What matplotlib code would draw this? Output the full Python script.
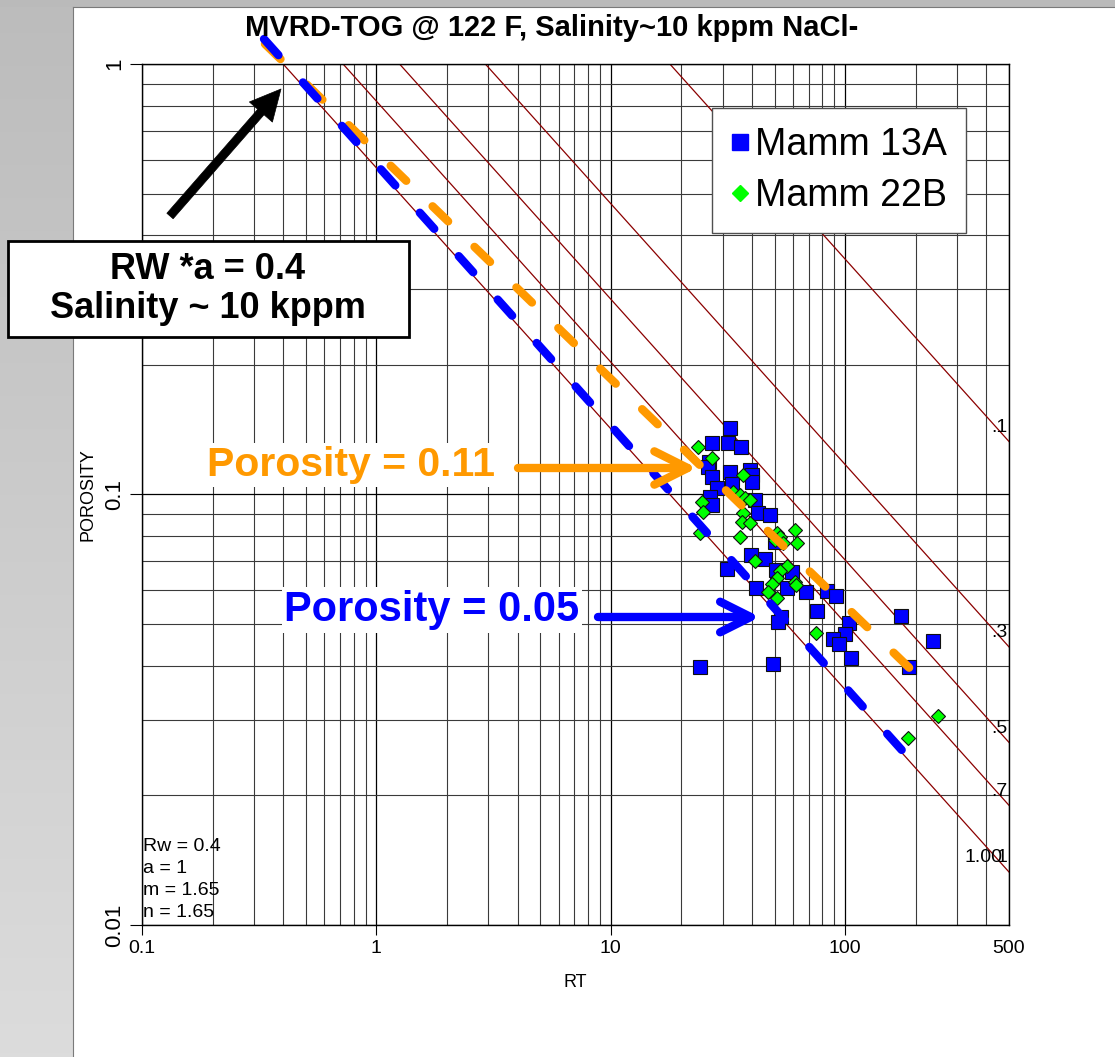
import numpy as np
import matplotlib
matplotlib.use("Agg")
import matplotlib.pyplot as plt
from matplotlib.patches import Rectangle
from matplotlib.lines import Line2D
from matplotlib.colors import LinearSegmentedColormap
from matplotlib.ticker import FixedLocator, LogLocator, NullFormatter
from matplotlib.transforms import blended_transform_factory
from matplotlib import font_manager

# ---------------- data ----------------
mamm13a_rt = [32.3, 27.0, 31.6, 35.9, 26.2, 26.0, 32.3, 27.0, 39.3, 40.0,
              40.0, 32.9, 28.4, 26.5, 27.0, 41.2, 42.5, 47.8, 50.2, 39.6,
              45.5, 31.3, 50.7, 59.3, 41.6, 56.5, 68.0, 83.6, 91.4, 75.8,
              173, 53.2, 51.7, 104, 99.8, 88.7, 94.1, 237, 106, 24.0,
              49.2, 187]
mamm13a_phi = [0.143, 0.132, 0.132, 0.129, 0.119, 0.116, 0.113, 0.110, 0.114, 0.111,
               0.107, 0.106, 0.1035, 0.0987, 0.0946, 0.0971, 0.0906, 0.0896, 0.0775, 0.0724,
               0.0708, 0.0671, 0.0668, 0.0661, 0.0606, 0.0606, 0.0594, 0.0597, 0.0581, 0.0536,
               0.0522, 0.0519, 0.0505, 0.0503, 0.0474, 0.0462, 0.0449, 0.0457, 0.0417, 0.0398,
               0.0404, 0.0398]

mamm22b_rt = [23.6, 27.0, 36.6, 33.2, 35.6, 37.4, 39.3, 24.5, 24.7, 36.6,
              36.3, 39.3, 24.0, 35.6, 51.2, 52.7, 61.1, 50.2, 54.3, 62.3,
              41.2, 56.5, 52.7, 51.2, 48.7, 61.1, 61.7, 46.8, 51.2, 75.1,
              249, 185]
mamm22b_phi = [0.129, 0.1216, 0.111, 0.1013, 0.0997, 0.0982, 0.0971, 0.0961, 0.0911, 0.0906,
               0.0863, 0.0859, 0.0814, 0.0797, 0.0814, 0.0797, 0.0827, 0.0784, 0.0771, 0.0771,
               0.0701, 0.0682, 0.0664, 0.0640, 0.0619, 0.0626, 0.0616, 0.0594, 0.0575, 0.0477,
               0.0306, 0.0272]

# Archie parameters
rw, a_coef, m_exp, n_exp = 0.4, 1.0, 1.65, 1.65
sw_values = [1.0, 0.7, 0.5, 0.3, 0.1]
sw_labels = ["1.00", ".7", ".5", ".3", ".1"]

# interpreted trend lines (dashed)
blue_trend_rt = [0.3315, 202.5]
blue_trend_phi = [1.143, 0.02328]
orange_trend_rt = [0.3346, 219.0]
orange_trend_phi = [1.113, 0.03648]

x_ticks = [0.1, 1, 10, 100, 500]
x_tick_labels = ["0.1", "1", "10", "100", "500"]
y_ticks = [0.01, 0.1, 1]
y_tick_labels = ["0.01", "0.1", "1"]

# ---------------- figure ----------------
plt.rcParams["font.family"] = ["Liberation Sans", "DejaVu Sans"]
available = {f.name for f in font_manager.fontManager.ttflist}
narrow = "Liberation Sans Narrow" in available

W, H = 1115, 1057
fig = plt.figure(figsize=(W / 100, H / 100), dpi=100)
fig.patch.set_facecolor("white")

# background (slide) ---------------------------------
bg = fig.add_axes([0, 0, 1, 1], zorder=-10)
bg.set_xlim(0, W); bg.set_ylim(H, 0); bg.axis("off")
grad = np.linspace(0, 1, 256).reshape(-1, 1)
cmap = LinearSegmentedColormap.from_list("g", ["#bcbcbc", "#dcdcdc"])
bg.imshow(grad, cmap=cmap, extent=[0, 73, H, 0], aspect="auto")
bg.add_patch(Rectangle((0, 0), W, 7, color="#bababa", lw=0))
bg.plot([73, 73], [7, H], color="#7a7a7a", lw=0.8)
bg.plot([73, W], [7, 7], color="#7a7a7a", lw=0.8)

# main axes -------------------------------------------
ax = fig.add_axes([142 / W, 1 - 925 / H, 867 / W, 861 / H])
ax.set_xscale("log"); ax.set_yscale("log")
ax.set_xlim(0.1, 500); ax.set_ylim(0.01, 1)
ax.xaxis.set_major_locator(FixedLocator(x_ticks))
ax.set_xticklabels(x_tick_labels)
ax.yaxis.set_major_locator(FixedLocator(y_ticks))
ax.set_yticklabels(y_tick_labels)
for axis in (ax.xaxis, ax.yaxis):
    axis.set_minor_locator(LogLocator(base=10, subs=np.arange(2, 10)))
    axis.set_minor_formatter(NullFormatter())
ax.grid(True, which="major", color="black", lw=0.9)
ax.grid(True, which="minor", color="#3a3a3a", lw=0.8)
ax.set_axisbelow(True)
ax.tick_params(which="minor", length=0)
ax.tick_params(axis="x", which="major", length=7, width=0.8, labelsize=14, pad=4)
ax.tick_params(axis="y", which="major", length=9, width=0.8, labelsize=16, pad=3,
               labelrotation=90)
for lab in ax.get_yticklabels():
    lab.set_va("center")
ax.xaxis.get_major_ticks()[-1].tick1line.set_visible(False)
for s in ax.spines.values():
    s.set_linewidth(1.0)
ax.set_xlabel("RT", fontsize=13, labelpad=12)
ax.set_ylabel("POROSITY", fontsize=13, labelpad=6)

# Archie Sw lines
phi_grid = np.logspace(-2.3, 0.1, 300)
edge = blended_transform_factory(ax.transAxes, ax.transData)
for sw, lab in zip(sw_values, sw_labels):
    rt = a_coef * rw / (phi_grid ** m_exp * sw ** n_exp)
    ax.plot(rt, phi_grid, color="#8b0000", lw=0.9, zorder=2)
    phi_edge = (a_coef * rw / (500 * sw ** n_exp)) ** (1 / m_exp)
    if lab == "1.00":
        ax.text(0.992, phi_edge * 1.03, lab, transform=edge, ha="right", va="bottom", fontsize=14, zorder=3)
        ax.text(0.998, phi_edge * 1.03, "1", transform=edge, ha="right", va="bottom", fontsize=14, zorder=3)
    else:
        ax.text(0.998, phi_edge * 1.03, lab, transform=edge, ha="right", va="bottom", fontsize=14, zorder=3)

# data points
ax.plot(mamm13a_rt, mamm13a_phi, ls="none", marker="s", ms=9.5, mfc="#0000ff",
        mec="#101010", mew=0.8, zorder=4, label="Mamm 13A")
ax.plot(mamm22b_rt, mamm22b_phi, ls="none", marker="D", ms=7.2, mfc="#00ff00",
        mec="#101010", mew=0.8, zorder=5, label="Mamm 22B")

# dashed interpretation lines
dash = (0, (2.6, 4.4))
ax.plot(orange_trend_rt, orange_trend_phi, color="#ff9900", lw=6, ls=dash,
        dash_capstyle="round", clip_on=False, zorder=6)
ax.plot(blue_trend_rt, blue_trend_phi, color="#0000ff", lw=6, ls=dash,
        dash_capstyle="round", clip_on=False, zorder=7)

# parameters text
ax.text(0.001, 0.005, "Rw = 0.4\na = 1\nm = 1.65\nn = 1.65", transform=ax.transAxes,
        ha="left", va="bottom", fontsize=14, linespacing=1.38, zorder=3)

# legend
handles = [Line2D([], [], ls="none", marker="s", ms=11, mfc="#0000ff", mec="#0000ff"),
           Line2D([], [], ls="none", marker="D", ms=8, mfc="#00ff00", mec="#00ff00")]
leg = ax.legend(handles, ["Mamm 13A", "Mamm 22B"], loc="upper left",
                bbox_to_anchor=(712 / W, 1 - 108 / H), bbox_transform=fig.transFigure,
                fontsize=27, frameon=True, fancybox=False, framealpha=1,
                edgecolor="#505050", borderpad=0.5, handlelength=0.5,
                handletextpad=0.15, labelspacing=0.42, borderaxespad=0)
leg.get_frame().set_linewidth(1.0)
leg.set_zorder(8)

# overlay for annotations ----------------------------
ov = fig.add_axes([0, 0, 1, 1], zorder=10)
ov.set_xlim(0, W); ov.set_ylim(H, 0); ov.axis("off")
ov.patch.set_alpha(0)

# title
if narrow:
    fig.text(552 / W, 1 - 28 / H, "MVRD-TOG @ 122 F, Salinity~10 kppm NaCl-", ha="center", va="center",
             fontsize=25, fontweight="bold", family=["Liberation Sans Narrow", "DejaVu Sans"])
else:
    fig.text(552 / W, 1 - 28 / H, "MVRD-TOG @ 122 F, Salinity~10 kppm NaCl-", ha="center", va="center",
             fontsize=21, fontweight="bold")

# RW box
ov.add_patch(Rectangle((8, 241), 401, 96, fc="white", ec="black", lw=2, zorder=1))
ov.text(208, 289, "RW *a = 0.4\nSalinity ~ 10 kppm", ha="center", va="center",
        fontsize=26, fontweight="bold", linespacing=1.15, zorder=2)

# black arrow
ov.annotate("", xy=(281, 89), xytext=(170, 216),
            arrowprops=dict(arrowstyle="simple,head_length=2.2,head_width=2.2,tail_width=0.6",
                            mutation_scale=10, fc="black", ec="black", lw=0.5,
                            shrinkA=0, shrinkB=0))

# orange annotation
ov.text(351, 465, "Porosity = 0.11", ha="center", va="center", fontsize=29.5,
        fontweight="bold", color="#ff9900",
        bbox=dict(fc="white", ec="none", pad=2))
ov.annotate("", xy=(697, 468), xytext=(518, 468),
            arrowprops=dict(arrowstyle="->,head_length=2.4,head_width=1.2",
                            mutation_scale=10, color="#ff9900", lw=6,
                            shrinkA=0, shrinkB=0, capstyle="round", joinstyle="round"))

# blue annotation
ov.text(432, 610, "Porosity = 0.05", ha="center", va="center", fontsize=30,
        fontweight="bold", color="#0000ff",
        bbox=dict(fc="white", ec="none", pad=2))
ov.annotate("", xy=(760, 617), xytext=(598, 617),
            arrowprops=dict(arrowstyle="->,head_length=2.2,head_width=1.1",
                            mutation_scale=10, color="#0000ff", lw=6,
                            shrinkA=0, shrinkB=0, capstyle="round", joinstyle="round"))

fig.savefig("out.png", dpi=100)
